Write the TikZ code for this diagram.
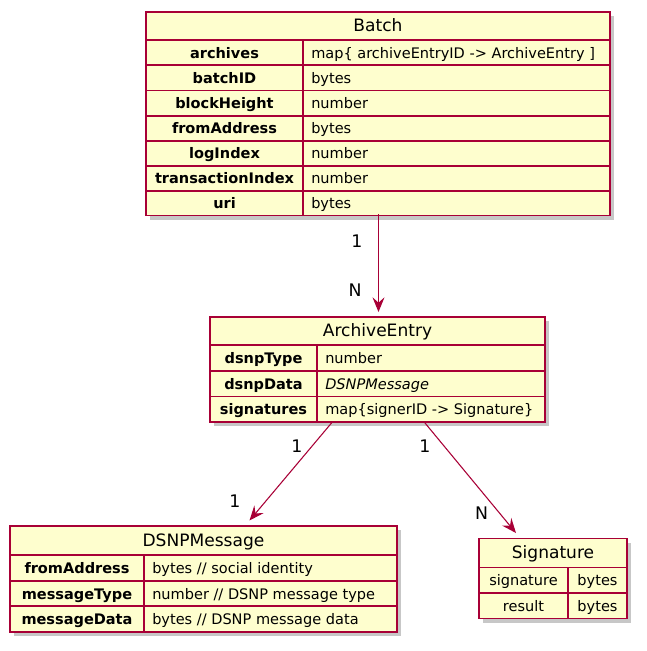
\documentclass[tikz,border=0pt]{standalone}
\usepackage{fontspec}
\setmainfont{DejaVu Sans}
\usetikzlibrary{arrows.meta,shadows,fit}
\definecolor{umlred}{HTML}{A80036}
\definecolor{umlfill}{HTML}{FEFECE}
\tikzset{
  clsbox/.style={draw=umlred, fill=umlfill, line width=1.1pt, inner sep=0pt,
    drop shadow={shadow xshift=3pt, shadow yshift=-3pt, fill=black, opacity=0.22}},
  sepline/.style={draw=umlred, line width=0.8pt},
  ctitle/.style={font=\fontsize{12.8pt}{14pt}\selectfont, anchor=mid, inner sep=0pt, yshift=-1.3pt},
  fname/.style={font=\fontsize{10.9pt}{12pt}\selectfont\bfseries, anchor=mid, inner sep=0pt, yshift=-1.3pt},
  fplain/.style={font=\fontsize{10.9pt}{12pt}\selectfont, anchor=mid, inner sep=0pt, yshift=-1.3pt},
  fval/.style={font=\fontsize{10.9pt}{12pt}\selectfont, anchor=mid west, inner sep=0pt, yshift=-1.3pt},
  rel/.style={draw=umlred, line width=0.8pt, -{Stealth[length=11pt,width=9pt,inset=4pt]}},
  mult/.style={font=\fontsize{13pt}{14pt}\selectfont, anchor=mid, inner sep=0pt, yshift=-1pt},
}
\begin{document}
\begin{tikzpicture}[x=0.75pt,y=-0.75pt]
\useasboundingbox (0,0) rectangle (647,651);
% ---------- Batch ----------
\node[clsbox, fit={(146,12) (610,215.5)}] (batch) {};
\draw[sepline] (146,40) -- (610,40);
\foreach \yy in {65,90.5,116,141,166,191} \draw[sepline] (146,\yy) -- (610,\yy);
\draw[sepline] (303,40) -- (303,215.5);
\node[ctitle] (batchT) at (378,26.5) {Batch};
\node[fname] (b1n) at (224.5,53) {archives};
\node[fval]  (b1v) at (311,53) {map\{ archiveEntryID -> ArchiveEntry ]};
\node[fname] (b2n) at (224.5,78) {batchID};
\node[fval]  (b2v) at (311,78) {bytes};
\node[fname] (b3n) at (224.5,103.5) {blockHeight};
\node[fval]  (b3v) at (311,103.5) {number};
\node[fname] (b4n) at (224.5,128.5) {fromAddress};
\node[fval]  (b4v) at (311,128.5) {bytes};
\node[fname] (b5n) at (224.5,153.5) {logIndex};
\node[fval]  (b5v) at (311,153.5) {number};
\node[fname] (b6n) at (224.5,178.5) {transactionIndex};
\node[fval]  (b6v) at (311,178.5) {number};
\node[fname] (b7n) at (224.5,203.5) {uri};
\node[fval]  (b7v) at (311,203.5) {bytes};
% ---------- ArchiveEntry ----------
\node[clsbox, fit={(210,317) (545,422)}] (ae) {};
\draw[sepline] (210,345) -- (545,345);
\draw[sepline] (210,371) -- (545,371);
\draw[sepline] (210,396.5) -- (545,396.5);
\draw[sepline] (317,345) -- (317,422);
\node[ctitle] (aeT) at (377.5,331.5) {ArchiveEntry};
\node[fname] (a1n) at (263.5,358.5) {dsnpType};
\node[fval]  (a1v) at (325,358.5) {number};
\node[fname] (a2n) at (263.5,384) {dsnpData};
\node[fval]  (a2v) at (325,384) {\itshape DSNPMessage};
\node[fname] (a3n) at (263.5,409.5) {signatures};
\node[fval]  (a3v) at (325,409.5) {map\{signerID -> Signature\}};
% ---------- DSNPMessage ----------
\node[clsbox, fit={(10,526) (397,632)}] (dm) {};
\draw[sepline] (10,555) -- (397,555);
\draw[sepline] (10,581) -- (397,581);
\draw[sepline] (10,606) -- (397,606);
\draw[sepline] (144,555) -- (144,632);
\node[ctitle] (dmT) at (203.5,541) {DSNPMessage};
\node[fname] (d1n) at (77,568.5) {fromAddress};
\node[fval]  (d1v) at (152,568.5) {bytes // social identity};
\node[fname] (d2n) at (77,594) {messageType};
\node[fval]  (d2v) at (152,594) {number // DSNP message type};
\node[fname] (d3n) at (77,619.5) {messageData};
\node[fval]  (d3v) at (152,619.5) {bytes // DSNP message data};
% ---------- Signature ----------
\node[clsbox, fit={(479,538.5) (627,618.5)}] (sig) {};
\draw[sepline] (479,567.5) -- (627,567.5);
\draw[sepline] (479,593) -- (627,593);
\draw[sepline] (568,567.5) -- (568,618.5);
\node[ctitle] (sigT) at (553,553) {Signature};
\node[fplain] (s1n) at (523.5,580.5) {signature};
\node[fplain] (s1v) at (597.5,580.5) {bytes};
\node[fplain] (s2n) at (523.5,606) {result};
\node[fplain] (s2v) at (597.5,606) {bytes};
% ---------- relations ----------
\coordinate (batchOut) at (378.5,214);
\coordinate (aeIn) at (378.5,312);
\coordinate (aeOutL) at (331.5,423);
\coordinate (dmIn) at (249.5,520.5);
\coordinate (aeOutR) at (425,423);
\coordinate (sigIn) at (516,533);
\draw[rel] (batchOut) -- (aeIn);
\draw[rel] (aeOutL) -- (dmIn);
\draw[rel] (aeOutR) -- (sigIn);
\node[mult] (m1) at (357,243) {1};
\node[mult] (m2) at (355,292) {N};
\node[mult] (m3) at (297,448) {1};
\node[mult] (m4) at (235,503) {1};
\node[mult] (m5) at (425,448) {1};
\node[mult] (m6) at (481.5,515) {N};
\end{tikzpicture}
\end{document}
